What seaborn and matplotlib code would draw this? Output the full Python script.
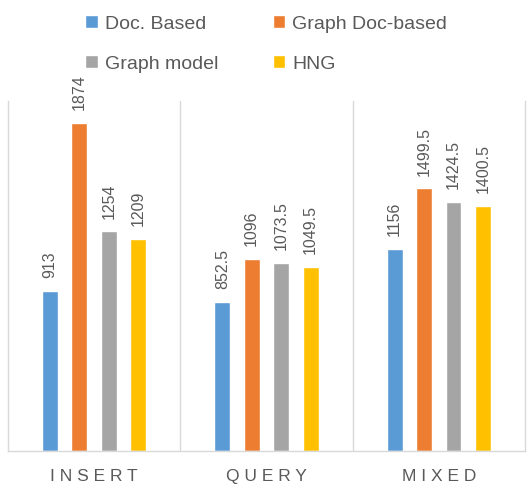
import pandas as pd
import matplotlib.pyplot as plt
import seaborn as sns

# data
categories = ['INSERT', 'QUERY', 'MIXED']
series = ['Doc. Based', 'Graph Doc-based', 'Graph model', 'HNG']
doc_based = [913, 852.5, 1156]
graph_doc_based = [1874, 1096, 1499.5]
graph_model = [1254, 1073.5, 1424.5]
hng = [1209, 1049.5, 1400.5]
colors = ['#5B9BD5', '#ED7D31', '#A5A5A5', '#FFC000']

rows = []
for name, vals in zip(series, [doc_based, graph_doc_based, graph_model, hng]):
    for cat, v in zip(categories, vals):
        rows.append({'category': cat, 'series': name, 'value': v})
df = pd.DataFrame(rows)

sns.set_style('white')
plt.rcParams['font.family'] = ['Liberation Sans', 'DejaVu Sans']
text_color = '#595959'

fig = plt.figure(figsize=(5.3, 4.85), dpi=100)
ax = fig.add_axes([0.015, 0.068, 0.9755, 0.722])

sns.barplot(data=df, x='category', y='value', hue='series', order=categories,
            hue_order=series, palette=colors, width=0.684, gap=0.46,
            saturation=1, ax=ax, legend=True)

for cont in ax.containers:
    ax.bar_label(cont, fmt='%g', rotation=90, padding=10, color=text_color, fontsize=11.5)

ax.set_ylim(0, 2000)
ax.set_xlim(-0.5, 2.5)
ax.set_yticks([])
ax.set_xlabel('')
ax.set_ylabel('')
ax.set_xticks(range(len(categories)))
ax.set_xticklabels([' '.join(c) for c in categories], color=text_color, fontsize=12.5)
ax.tick_params(axis='x', length=0, pad=12)

for s in ['left', 'right', 'bottom']:
    ax.spines[s].set_color('#D9D9D9')
    ax.spines[s].set_linewidth(1)
ax.spines['top'].set_visible(False)
for xv in [0.5, 1.5]:
    ax.axvline(xv, color='#D9D9D9', lw=1, zorder=0)

# legend filled row by row like the original
handles, labels = ax.get_legend_handles_labels()
ax.get_legend().remove()
idx = [0, 2, 1, 3]
fig.legend([handles[i] for i in idx], [labels[i] for i in idx], ncol=2,
           loc='upper left', bbox_to_anchor=(0.128, 1.003),
           frameon=False, fontsize=14, labelcolor=text_color, handlelength=0.65,
           handleheight=0.65, handletextpad=0.35, columnspacing=2.8, labelspacing=1.15)

fig.savefig('out.png', dpi=100)
